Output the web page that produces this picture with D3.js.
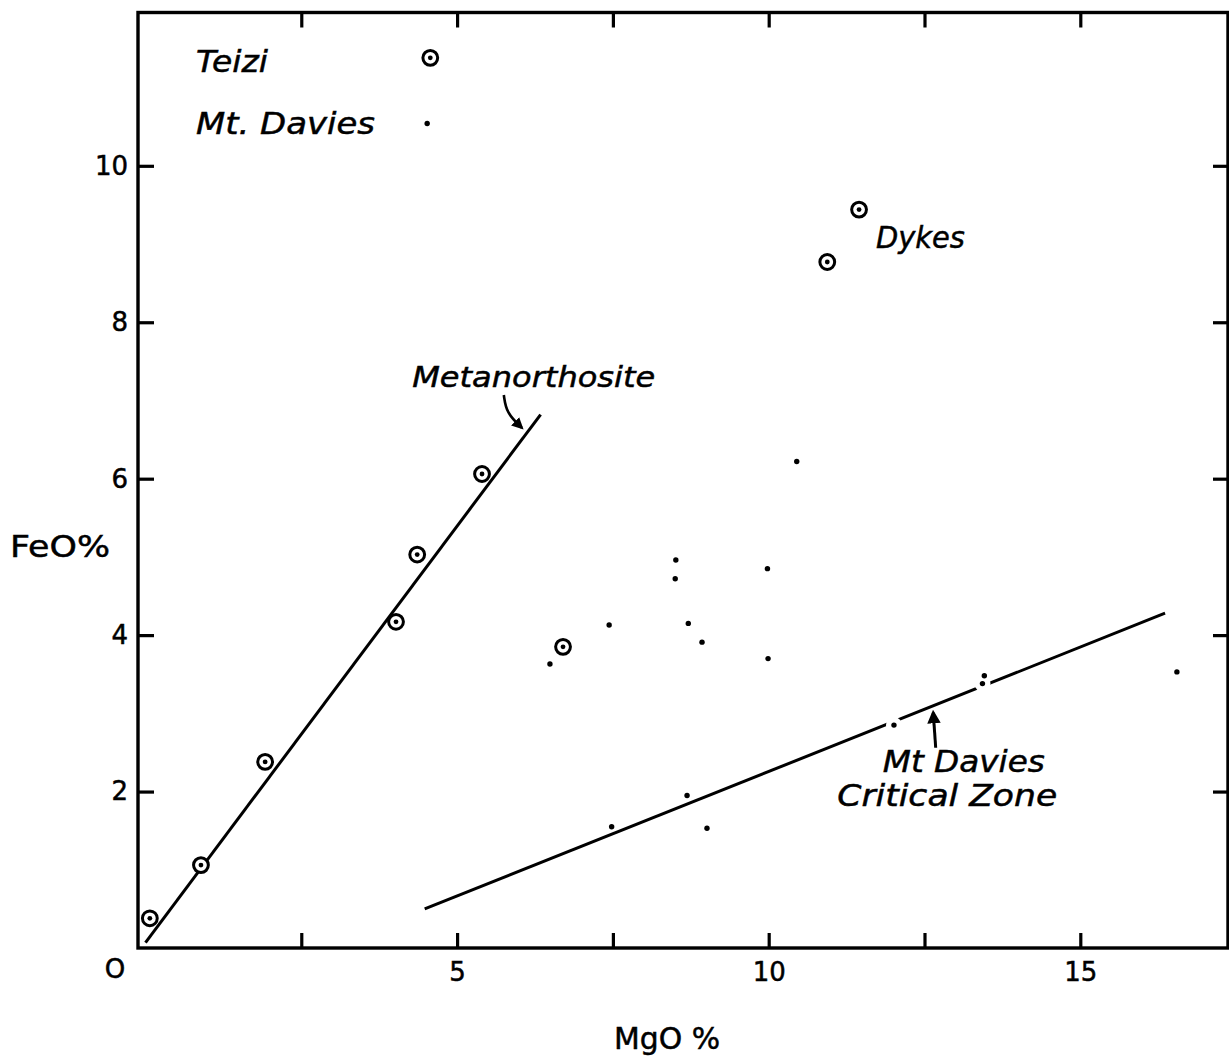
<!DOCTYPE html>
<html>
<head>
<meta charset="utf-8">
<script src="https://cdn.jsdelivr.net/npm/d3@7"></script>
<style>
  html, body { margin: 0; padding: 0; background: #fff; }
  svg { display: block; }
  text { font-family: "DejaVu Sans", sans-serif; fill: #000; stroke: #000; stroke-width: 0.5px; }
</style>
</head>
<body>
<svg id="chart" width="1229" height="1060"></svg>
<script>
// ---------------- DATA ----------------
// Teizi analyses (circled dots): [MgO %, FeO %]
const teiziPoints = [
  [0.07, 0.38], [0.89, 1.06], [1.92, 2.38], [4.02, 4.17], [4.36, 5.03],
  [5.40, 6.06], [6.70, 3.85], [10.94, 8.77], [11.45, 9.44]
];
// Mt. Davies analyses (small dots): [MgO %, FeO %]
const mtDaviesPoints = [
  [6.49, 3.63], [7.44, 4.13], [8.51, 4.96], [8.50, 4.72], [8.71, 4.15],
  [8.93, 3.91], [9.98, 4.85], [9.99, 3.70], [10.45, 6.22], [8.69, 1.95],
  [7.48, 1.55], [9.01, 1.53], [12.01, 2.85], [13.46, 3.48], [13.43, 3.38],
  [16.55, 3.53]
];
// Trend lines (end points)
const metanorthositeLine = [[0.00, 0.07], [6.34, 6.82]];
const criticalZoneLine   = [[4.48, 0.50], [16.36, 4.28]];
// Legend
const legendLabels  = ["Teizi", "Mt. Davies"];
const legendMarkers = [[4.57, 11.38], [4.52, 10.54]];
const legendTextPos = [[0.81, 11.20], [0.81, 10.41]];
// Annotations
const annotationLabels = ["Dykes", "Metanorthosite", "Mt Davies", "Critical Zone"];
const annotationPos    = [[11.72, 8.95], [4.28, 7.17], [11.83, 2.25], [11.10, 1.82]];
const metArrowPath     = [[5.75, 7.07], [5.79, 6.84], [6.04, 6.65]];
const czArrowPath      = [[12.68, 2.56], [12.64, 3.01]];
// Axes
const xTicks = [2.5, 5, 7.5, 10, 12.5, 15];
const xTickLabels = [5, 10, 15];
const yTicks = [2, 4, 6, 8, 10];
const xTitle = "MgO %";
const yTitle = "FeO%";
const originLabel = "O";

// ---------------- LAYOUT ----------------
const svg = d3.select("#chart");
const pL = 138, pR = 1228, pT = 12.5, pB = 948;

const x = d3.scaleLinear().domain([-0.12, 17.37]).range([pL, pR]);
const y = d3.scaleLinear().domain([0, 11.96]).range([pB, pT]);

const ink = "#000";

// Frame
svg.append("rect")
  .attr("x", pL).attr("y", pT)
  .attr("width", pR - pL).attr("height", pB - pT)
  .attr("fill", "none").attr("stroke", ink).attr("stroke-width", 3.4);

// Axes with inward ticks
const fmtX = d => xTickLabels.includes(d) ? String(d) : "";
const axB = svg.append("g").attr("transform", `translate(0,${pB})`)
  .call(d3.axisBottom(x).tickValues(xTicks).tickSize(-15).tickSizeOuter(0).tickPadding(15).tickFormat(fmtX));
const axT = svg.append("g").attr("transform", `translate(0,${pT})`)
  .call(d3.axisTop(x).tickValues(xTicks).tickSize(-15).tickSizeOuter(0).tickFormat(""));
const axL = svg.append("g").attr("transform", `translate(${pL},0)`)
  .call(d3.axisLeft(y).tickValues(yTicks).tickSize(-16).tickSizeOuter(0).tickPadding(10).tickFormat(d => String(d)));
const axR = svg.append("g").attr("transform", `translate(${pR},0)`)
  .call(d3.axisRight(y).tickValues(yTicks).tickSize(-15).tickSizeOuter(0).tickFormat(""));

[axB, axT, axL, axR].forEach(g => {
  g.select(".domain").remove();
  g.selectAll(".tick line").attr("stroke", ink).attr("stroke-width", 3.2);
  g.selectAll(".tick text").attr("fill", ink)
    .style("font-family", "'DejaVu Sans', sans-serif").style("font-size", "26px");
});

// Origin label
svg.append("text").attr("x", 115).attr("y", 978)
  .attr("text-anchor", "middle").style("font-size", "26px").text(originLabel);

// Axis titles
svg.append("text").attr("x", 10).attr("y", 557)
  .attr("textLength", 100).attr("lengthAdjust", "spacingAndGlyphs")
  .style("font-size", "31px").text(yTitle);
svg.append("text").attr("x", 614).attr("y", 1049)
  .attr("textLength", 106).attr("lengthAdjust", "spacingAndGlyphs")
  .style("font-size", "31px").text(xTitle);

// Trend lines
const line = d3.line().x(d => x(d[0])).y(d => y(d[1]));
svg.append("path").datum(metanorthositeLine).attr("d", line)
  .attr("fill", "none").attr("stroke", ink).attr("stroke-width", 3);
svg.append("path").datum(criticalZoneLine).attr("d", line)
  .attr("fill", "none").attr("stroke", ink).attr("stroke-width", 3);

// Line breaks where a Mt Davies dot sits on the critical-zone line
const [p0, p1] = criticalZoneLine.map(d => [x(d[0]), y(d[1])]);
function distToLine(px, py) {
  const dx = p1[0] - p0[0], dy = p1[1] - p0[1];
  return Math.abs(dy * px - dx * py + p1[0] * p0[1] - p1[1] * p0[0]) / Math.hypot(dx, dy);
}
svg.selectAll("circle.halo")
  .data(mtDaviesPoints.filter(d => distToLine(x(d[0]), y(d[1])) < 4.5))
  .join("circle").attr("class", "halo")
  .attr("cx", d => x(d[0])).attr("cy", d => y(d[1])).attr("r", 8)
  .attr("fill", "#fff");

// Mt Davies dots
svg.selectAll("circle.md")
  .data(mtDaviesPoints.concat([legendMarkers[1]]))
  .join("circle").attr("class", "md")
  .attr("cx", d => x(d[0])).attr("cy", d => y(d[1])).attr("r", 2.7)
  .attr("fill", ink);

// Teizi circled dots
const tz = svg.selectAll("g.tz")
  .data(teiziPoints.concat([legendMarkers[0]]))
  .join("g").attr("class", "tz")
  .attr("transform", d => `translate(${x(d[0])},${y(d[1])})`);
tz.append("circle").attr("r", 7.4).attr("fill", "#fff")
  .attr("stroke", ink).attr("stroke-width", 3);
tz.append("circle").attr("r", 2.4).attr("fill", ink);

// Legend text
const legendLen = [72, 179];
svg.selectAll("text.leg").data(legendLabels).join("text").attr("class", "leg")
  .attr("x", (d, i) => x(legendTextPos[i][0]))
  .attr("y", (d, i) => y(legendTextPos[i][1]))
  .attr("textLength", (d, i) => legendLen[i]).attr("lengthAdjust", "spacingAndGlyphs")
  .style("font-size", "30px").style("font-style", "italic").text(d => d);

// Annotation text
const annLen = [89, 243, 162, 220];
const annSize = [31, 28, 30, 30];
svg.selectAll("text.ann").data(annotationLabels).join("text").attr("class", "ann")
  .attr("x", (d, i) => x(annotationPos[i][0]))
  .attr("y", (d, i) => y(annotationPos[i][1]))
  .attr("textLength", (d, i) => annLen[i]).attr("lengthAdjust", "spacingAndGlyphs")
  .style("font-size", (d, i) => annSize[i] + "px").style("font-style", "italic").text(d => d);

// Arrows
const defs = svg.append("defs");
defs.append("marker").attr("id", "ah")
  .attr("viewBox", "0 0 10 10").attr("refX", 8).attr("refY", 5)
  .attr("markerWidth", 4.5).attr("markerHeight", 4.5).attr("markerUnits", "strokeWidth")
  .attr("orient", "auto")
  .append("path").attr("d", "M0,0 L10,5 L0,10 z").attr("fill", ink);

const curve = d3.line().x(d => x(d[0])).y(d => y(d[1])).curve(d3.curveBasis);
svg.append("path").datum(metArrowPath).attr("d", curve)
  .attr("fill", "none").attr("stroke", ink).attr("stroke-width", 2.6)
  .attr("marker-end", "url(#ah)");
svg.append("path").datum(czArrowPath).attr("d", line)
  .attr("fill", "none").attr("stroke", ink).attr("stroke-width", 3)
  .attr("marker-end", "url(#ah)");
</script>
</body>
</html>
